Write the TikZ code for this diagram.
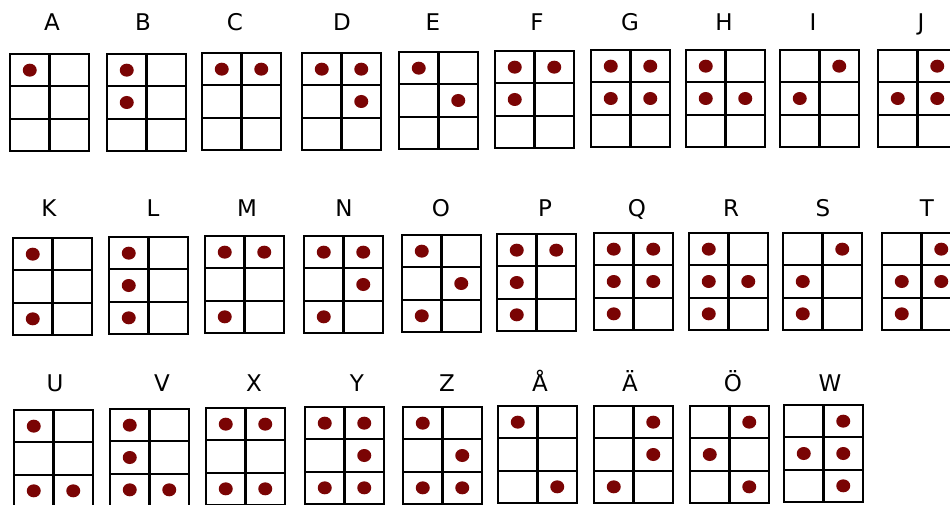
\documentclass[tikz,border=0pt]{standalone}
\usepackage{fontspec}
\setmainfont{DejaVu Sans}
\usetikzlibrary{calc}
\definecolor{dotred}{RGB}{122,4,4}
\tikzset{
  cellbox/.style={draw=black, line width=2.3pt, minimum width=79pt, minimum height=97pt, inner sep=0pt, outer sep=0pt},
  gridline/.style={draw=black, line width=2.1pt},
  lbl/.style={font=\fontsize{23}{27}\selectfont, anchor=base, inner sep=0pt, text=black},
  brdot/.style={fill=dotred}
}
% #1 name, #2 left, #3 top, #4 label, #5 label x, #6 label baseline y, #7 dots (col/row)
\newcommand\brcell[7]{%
  \node[cellbox] (#1) at (#2+39.5,#3+48.5) {};
  \draw[gridline] (#1.north) -- (#1.south);
  \draw[gridline] ($(#1.north west)!1/3!(#1.south west)$) -- ($(#1.north east)!1/3!(#1.south east)$);
  \draw[gridline] ($(#1.north west)!2/3!(#1.south west)$) -- ($(#1.north east)!2/3!(#1.south east)$);
  \foreach \cc/\rr in {#7} {
    \fill[brdot] ($(#1.north west)+({(\cc-0.5)*39.5},{(\rr-0.5)*97/3})$) ellipse (7pt and 6.5pt);
  }
  \node[lbl] (#1l) at (#5,#6) {#4};
}
\begin{document}
\begin{tikzpicture}[x=1pt,y=-1pt]
\useasboundingbox (0,0) rectangle (950,505);
\clip (0,0) rectangle (950,505);
\fill[white] (0,0) rectangle (950,505);
% row 1
\brcell{A}{10}{54}{A}{52}{31}{1/1}
\brcell{B}{107}{54}{B}{143}{31}{1/1,1/2}
\brcell{C}{202}{53}{C}{235}{31}{1/1,2/1}
\brcell{D}{302}{53}{D}{342}{31}{1/1,2/1,2/2}
\brcell{E}{399}{52}{E}{433}{31}{1/1,2/2}
\brcell{F}{495}{51}{F}{537}{31}{1/1,2/1,1/2}
\brcell{G}{591}{50}{G}{630}{31}{1/1,2/1,1/2,2/2}
\brcell{H}{686}{50}{H}{724}{31}{1/1,1/2,2/2}
\brcell{I}{780}{50}{I}{813}{31}{2/1,1/2}
\brcell{J}{878}{50}{J}{921}{31}{2/1,1/2,2/2}
% row 2
\brcell{K}{13}{238}{K}{49}{217}{1/1,1/3}
\brcell{L}{109}{237}{L}{153}{217}{1/1,1/2,1/3}
\brcell{M}{205}{236}{M}{247}{217}{1/1,2/1,1/3}
\brcell{N}{304}{236}{N}{344}{217}{1/1,2/1,2/2,1/3}
\brcell{O}{402}{235}{O}{441}{217}{1/1,2/2,1/3}
\brcell{P}{497}{234}{P}{545}{217}{1/1,2/1,1/2,1/3}
\brcell{Q}{594}{233}{Q}{637}{217}{1/1,2/1,1/2,2/2,1/3}
\brcell{R}{689}{233}{R}{731}{217}{1/1,1/2,2/2,1/3}
\brcell{S}{783}{233}{S}{823}{217}{2/1,1/2,1/3}
\brcell{T}{882}{233}{T}{927}{217}{2/1,1/2,2/2,1/3}
% row 3
\brcell{U}{14}{410}{U}{55}{391}{1/1,1/3,2/3}
\brcell{V}{110}{409}{V}{162}{391}{1/1,1/2,1/3,2/3}
\brcell{X}{206}{408}{X}{254}{391}{1/1,2/1,1/3,2/3}
\brcell{Y}{305}{407}{Y}{357}{391}{1/1,2/1,2/2,1/3,2/3}
\brcell{Z}{403}{407}{Z}{447}{391}{1/1,2/2,1/3,2/3}
\brcell{AA}{498}{406}{Å}{540}{391}{1/1,2/3}
\brcell{AE}{594}{406}{Ä}{630}{391}{2/1,2/2,1/3}
\brcell{OE}{690}{406}{Ö}{733}{391}{2/1,1/2,2/3}
\brcell{W}{784}{405}{W}{830}{391}{2/1,1/2,2/2,2/3}
\end{tikzpicture}
\end{document}
